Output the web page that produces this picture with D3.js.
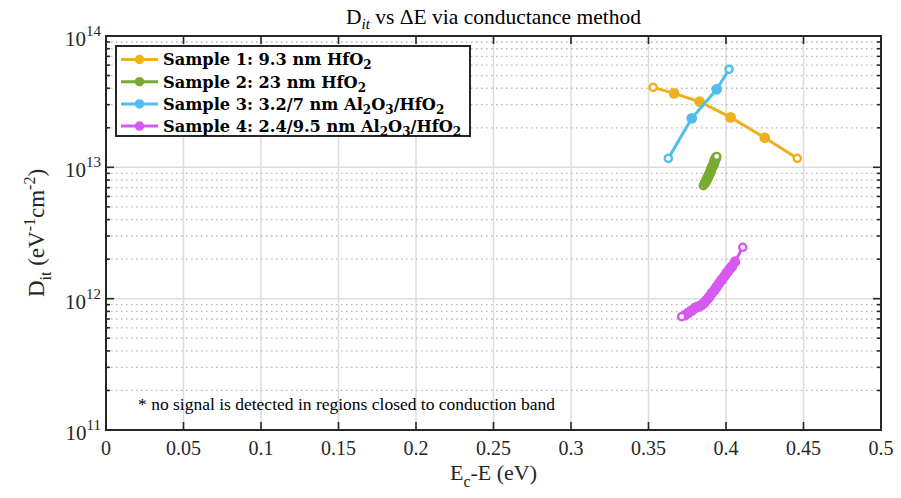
<!DOCTYPE html>
<html>
<head>
<meta charset="utf-8">
<script src="https://cdn.jsdelivr.net/npm/d3@7"></script>
<style>
  body { margin: 0; background: #fff; }
  svg { display: block; }
</style>
</head>
<body>
<svg class="grafico-d3-svg"></svg>
<script>
// dados (estimados)
const LEGENDAS = [
  'Sample 1: 9.3 nm HfO_2',
  'Sample 2: 23 nm HfO_2',
  'Sample 3: 3.2/7 nm Al_2O_3/HfO_2',
  'Sample 4: 2.4/9.5 nm Al_2O_3/HfO_2'
];
const CORES = ['#edb120', '#77ac30', '#4dbeee', '#d65af0'];

const S1_X = [0.353, 0.3665, 0.383, 0.403, 0.425, 0.446];
const S1_Y = [4.06e13, 3.66e13, 3.16e13, 2.40e13, 1.68e13, 1.17e13];

const S2_X = [0.3854, 0.3865, 0.3875, 0.3883, 0.389, 0.3897, 0.3903, 0.391, 0.3918, 0.3924, 0.3929, 0.3935, 0.394];
const S2_Y = [7.25e12, 7.6e12, 8.0e12, 8.4e12, 8.75e12, 9.1e12, 9.55e12, 1.0e13, 1.04e13, 1.09e13, 1.14e13, 1.18e13, 1.21e13];

const S3_X = [0.3628, 0.3779, 0.394, 0.402];
const S3_Y = [1.17e13, 2.36e13, 3.93e13, 5.58e13];

const S4_X = [0.4108, 0.4058, 0.4037, 0.402, 0.4005, 0.399, 0.3972, 0.3956, 0.394, 0.3925, 0.3908, 0.3892, 0.3875, 0.386, 0.3843, 0.382, 0.38, 0.3778, 0.3755, 0.3735, 0.3714];
const S4_Y = [2.46e12, 1.91e12, 1.75e12, 1.66e12, 1.57e12, 1.48e12, 1.39e12, 1.31e12, 1.23e12, 1.16e12, 1.10e12, 1.03e12, 9.77e11, 9.3e11, 8.95e11, 8.7e11, 8.49e11, 8.1e11, 7.78e11, 7.5e11, 7.29e11];

const SERIES_X = [S1_X, S2_X, S3_X, S4_X];
const SERIES_Y = [S1_Y, S2_Y, S3_Y, S4_Y];

const X_TICKS = [0, 0.05, 0.1, 0.15, 0.2, 0.25, 0.3, 0.35, 0.4, 0.45, 0.5];
const X_TICK_LABELS = ['0', '0.05', '0.1', '0.15', '0.2', '0.25', '0.3', '0.35', '0.4', '0.45', '0.5'];
const Y_DECADAS = [11, 12, 13, 14];

const NOTA = '* no signal is detected in regions closed to conduction band';

// dimensões
const W = 901, H = 498;
const MARGEM = { top: 36, right: 20, bottom: 68, left: 106 };
const FONTE = '"Liberation Serif", "Times New Roman", serif';
const FONTE_LEG = '"DejaVu Serif", serif';

const $svg = d3.select('.grafico-d3-svg').attr('width', W).attr('height', H);

const x = d3.scaleLinear().domain([0, 0.5]).range([MARGEM.left, W - MARGEM.right]);
const y = d3.scaleLog().domain([1e11, 1e14]).range([H - MARGEM.bottom, MARGEM.top]);

const [x0, x1] = x.range();
const [y0, y1] = y.range();

// ticks menores do eixo log
const Y_MAIORES = Y_DECADAS.map(d => Math.pow(10, d));
const Y_MENORES = [];
Y_DECADAS.slice(0, -1).forEach(d => {
  for (let k = 2; k <= 9; k++) Y_MENORES.push(k * Math.pow(10, d));
});

// grade
const $grade = $svg.append('g');
$grade.selectAll('.gx').data(X_TICKS).enter().append('line')
  .attr('x1', d => x(d)).attr('x2', d => x(d))
  .attr('y1', y0).attr('y2', y1)
  .attr('stroke', '#dcdcdc').attr('stroke-width', 1.5);
$grade.selectAll('.gym').data(Y_MENORES).enter().append('line')
  .attr('x1', x0).attr('x2', x1)
  .attr('y1', d => y(d)).attr('y2', d => y(d))
  .attr('stroke', '#b8b8b8').attr('stroke-width', 1.3)
  .attr('stroke-dasharray', '1.5,3.5');
$grade.selectAll('.gy').data(Y_MAIORES).enter().append('line')
  .attr('x1', x0).attr('x2', x1)
  .attr('y1', d => y(d)).attr('y2', d => y(d))
  .attr('stroke', '#dcdcdc').attr('stroke-width', 1.5);

// séries
const linha = d3.line().x(d => x(d[0])).y(d => y(d[1]));
SERIES_X.forEach((xs, i) => {
  const pts = xs.map((v, j) => [v, SERIES_Y[i][j]]);
  const $g = $svg.append('g');
  $g.append('path').datum(pts)
    .attr('d', linha).attr('fill', 'none')
    .attr('stroke', CORES[i]).attr('stroke-width', 3);
  $g.selectAll('circle').data(pts).enter().append('circle')
    .attr('cx', d => x(d[0])).attr('cy', d => y(d[1]))
    .attr('r', (d, j) => (j === 0 || j === pts.length - 1) ? 3.6 : 4.2)
    .attr('fill', (d, j) => (j === 0 || j === pts.length - 1) ? '#fff' : CORES[i])
    .attr('stroke', CORES[i]).attr('stroke-width', 2.4);
});

// caixa e ticks (para dentro, nos quatro lados)
const $eixos = $svg.append('g').attr('stroke', '#262626').attr('stroke-width', 1.6);
X_TICKS.forEach(t => {
  $eixos.append('line').attr('x1', x(t)).attr('x2', x(t)).attr('y1', y0).attr('y2', y0 - 8);
  $eixos.append('line').attr('x1', x(t)).attr('x2', x(t)).attr('y1', y1).attr('y2', y1 + 8);
});
Y_MAIORES.forEach(t => {
  $eixos.append('line').attr('x1', x0).attr('x2', x0 + 8).attr('y1', y(t)).attr('y2', y(t));
  $eixos.append('line').attr('x1', x1).attr('x2', x1 - 8).attr('y1', y(t)).attr('y2', y(t));
});
Y_MENORES.forEach(t => {
  $eixos.append('line').attr('x1', x0).attr('x2', x0 + 4).attr('y1', y(t)).attr('y2', y(t));
  $eixos.append('line').attr('x1', x1).attr('x2', x1 - 4).attr('y1', y(t)).attr('y2', y(t));
});
$svg.append('rect')
  .attr('x', x0).attr('y', y1).attr('width', x1 - x0).attr('height', y0 - y1)
  .attr('fill', 'none').attr('stroke', '#262626').attr('stroke-width', 2);

// rótulos dos ticks
$svg.append('g').selectAll('text').data(X_TICKS).enter().append('text')
  .attr('x', d => x(d)).attr('y', y0 + 25)
  .attr('text-anchor', 'middle')
  .style('font-family', FONTE).style('font-size', '20px').attr('fill', '#262626')
  .text((d, i) => X_TICK_LABELS[i]);

const $ylab = $svg.append('g').selectAll('text').data(Y_DECADAS).enter().append('text')
  .attr('x', x0 - 5).attr('y', d => y(Math.pow(10, d)) + 10)
  .attr('text-anchor', 'end')
  .style('font-family', FONTE).style('font-size', '21px').attr('fill', '#262626');
$ylab.append('tspan').text('10');
$ylab.append('tspan').attr('dy', -10).style('font-size', '15px').text(d => d);

// título
const $titulo = $svg.append('text')
  .attr('x', (x0 + x1) / 2).attr('y', 24).attr('text-anchor', 'middle')
  .style('font-family', FONTE).style('font-size', '21.5px').attr('fill', '#000');
$titulo.append('tspan').text('D');
$titulo.append('tspan').attr('dy', 5).style('font-size', '15px').style('font-style', 'italic').text('it');
$titulo.append('tspan').attr('dy', -5).text(' vs ΔE via conductance method');

// rótulo x
const $xl = $svg.append('text')
  .attr('x', (x0 + x1) / 2).attr('y', 480).attr('text-anchor', 'middle')
  .style('font-family', FONTE).style('font-size', '22px').attr('fill', '#262626');
$xl.append('tspan').text('E');
$xl.append('tspan').attr('dy', 7).style('font-size', '16px').text('c');
$xl.append('tspan').attr('dy', -7).text('-E (eV)');

// rótulo y
const $yl = $svg.append('text')
  .attr('transform', `translate(44,${(y0 + y1) / 2}) rotate(-90)`)
  .attr('text-anchor', 'middle')
  .style('font-family', FONTE).style('font-size', '23px').attr('fill', '#262626');
$yl.append('tspan').text('D');
$yl.append('tspan').attr('dy', 7).style('font-size', '16px').text('it');
$yl.append('tspan').attr('dy', -7).text(' (eV');
$yl.append('tspan').attr('dy', -9).style('font-size', '16px').text('-1');
$yl.append('tspan').attr('dy', 9).text('cm');
$yl.append('tspan').attr('dy', -9).style('font-size', '16px').text('-2');
$yl.append('tspan').attr('dy', 9).text(')');

// nota
$svg.append('text')
  .attr('x', 138).attr('y', 410)
  .style('font-family', FONTE).style('font-size', '17.5px').attr('fill', '#000')
  .text(NOTA);

// legenda
const $leg = $svg.append('g');
$leg.append('rect')
  .attr('x', 116).attr('y', 46).attr('width', 354).attr('height', 90)
  .attr('fill', '#fff').attr('stroke', '#262626').attr('stroke-width', 2);
LEGENDAS.forEach((txt, i) => {
  const cy = 59.5 + i * 22.2;
  $leg.append('line').attr('x1', 121).attr('x2', 158).attr('y1', cy).attr('y2', cy)
    .attr('stroke', CORES[i]).attr('stroke-width', 3);
  $leg.append('circle').attr('cx', 139.5).attr('cy', cy).attr('r', 4)
    .attr('fill', CORES[i]).attr('stroke', CORES[i]).attr('stroke-width', 1.5);
  const $t = $leg.append('text').attr('x', 163).attr('y', cy + 5.8)
    .style('font-family', FONTE_LEG).style('font-size', '16.2px').style('font-weight', 'bold')
    .attr('fill', '#000');
  // "_" marca um subscrito de um caractere
  const partes = txt.split('_');
  $t.append('tspan').text(partes[0]);
  partes.slice(1).forEach(p => {
    $t.append('tspan').attr('dy', 4).style('font-size', '12px').text(p[0]);
    $t.append('tspan').attr('dy', -4).text(p.slice(1));
  });
});
</script>
</body>
</html>
